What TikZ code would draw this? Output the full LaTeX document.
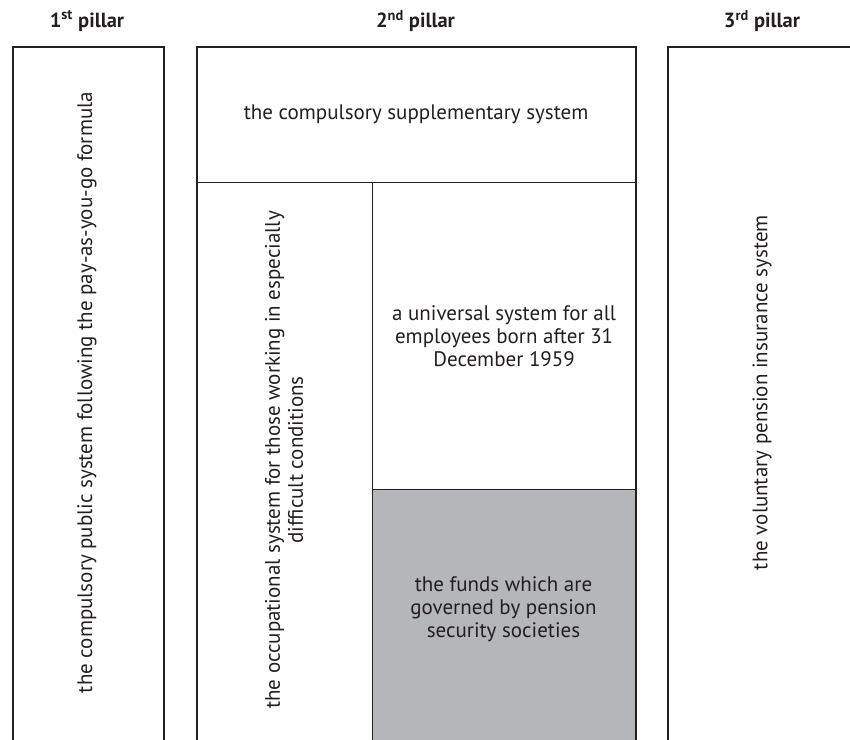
\documentclass[tikz,border=0pt]{standalone}
\usepackage{fontspec}
\setmainfont{PT Sans}
\usetikzlibrary{positioning}
\definecolor{lineclr}{HTML}{231F20}
\definecolor{fundgray}{HTML}{B5B6BA}

\begin{document}
\begin{tikzpicture}[x=1pt, y=-1pt,
  pillar/.style={draw=lineclr, line width=2pt, rectangle, inner sep=0pt, anchor=north west},
  cell/.style={draw=lineclr, line width=1.2pt, rectangle, inner sep=0pt, anchor=north west},
  fund/.style={cell, fill=fundgray},
  head/.style={font=\fontsize{20.5}{24}\selectfont\bfseries, text=lineclr},
  txt/.style={font=\fontsize{21}{23}\selectfont, text=lineclr, align=center, inner sep=0pt},
]
\useasboundingbox (0,0) rectangle (850,739);
\clip (0,0) rectangle (850,739);

%==== 2nd pillar cells ====
\node[cell] (supp)  at (196,46)  [minimum width=439, minimum height=136] {};
\node[cell] (occup) at (196,182) [minimum width=176, minimum height=600] {};
\node[cell] (univ)  at (372,182) [minimum width=263, minimum height=307] {};
\node[fund] (funds) at (372,489) [minimum width=263, minimum height=300] {};

%==== pillar frames ====
\node[pillar] (p1) at (11.5,46) [minimum width=151, minimum height=740] {};
\node[pillar] (p2) at (196,46)  [minimum width=439, minimum height=740] {};
\node[pillar] (p3) at (667,46)  [minimum width=200, minimum height=740] {};

%==== headings ====
\node[head] (h1) at (87,21)    {1\textsuperscript{st} pillar};
\node[head] (h2) at (415.5,21) {2\textsuperscript{nd} pillar};
\node[head] (h3) at (762,21)   {3\textsuperscript{rd} pillar};

%==== texts ====
\node[txt, rotate=90] (t1) at (87,392.5)
  {the compulsory public system following the pay-as-you-go formula};
\node[txt] (t2) at (supp.center) {the compulsory supplementary system};
\node[txt, rotate=90] (t3) at (284,460)
  {the occupational system for those working in especially\\difficult conditions};
\node[txt] (t4) at (univ.center)
  {a universal system for all\\employees born after 31\\December 1959};
\node[txt] (t5) at (503.5,609)
  {the funds which are\\governed by pension\\security societies};
\node[txt, rotate=90] (t6) at (762,392.5) {the voluntary pension insurance system};

\end{tikzpicture}
\end{document}
